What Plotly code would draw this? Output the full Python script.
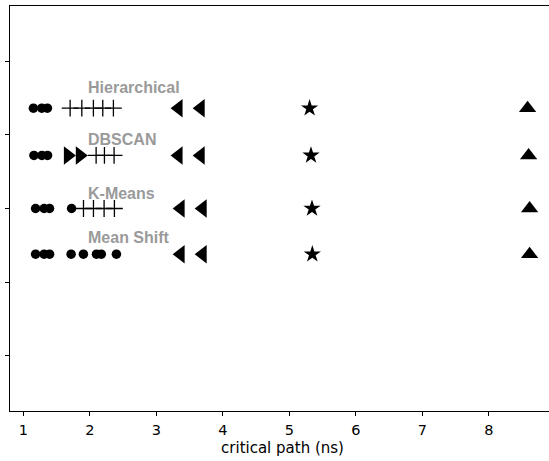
import plotly.graph_objects as go

# ---- data ----
algorithms = ["Hierarchical", "DBSCAN", "K-Means", "Mean Shift"]
row_y = [3.36, 2.72, 2.0, 1.38]
label_y = [3.64, 2.94, 2.20, 1.61]
label_x = 1.94

circles = [
    [1.152, 1.278, 1.362],
    [1.16, 1.28, 1.365],
    [1.185, 1.313, 1.395, 1.726],
    [1.185, 1.313, 1.395, 1.719, 1.904, 2.10, 2.173, 2.40],
]
crosses = [
    [1.704, 1.880, 2.054, 2.195, 2.355],
    [2.095, 2.22, 2.365],
    [1.905, 2.055, 2.215, 2.37],
    [],
]
right_tri = [[], [1.67, 1.85], [], []]
left_tri = [
    [3.335, 3.667],
    [3.335, 3.667],
    [3.366, 3.697],
    [3.366, 3.697],
]
stars = [5.305, 5.326, 5.341, 5.346]
up_tri = [8.583, 8.598, 8.613, 8.613]

x_ticks = [1, 2, 3, 4, 5, 6, 7, 8]
y_ticks = [0, 1, 2, 3, 4]

fig = go.Figure()

def add(xs, y, symbol, size, line=False):
    if not xs:
        return
    marker = dict(symbol=symbol, size=size, color="black")
    if line:
        marker["line"] = dict(color="black", width=1.3)
    else:
        marker["line"] = dict(width=0)
    fig.add_trace(go.Scatter(x=xs, y=[y] * len(xs), mode="markers",
                             marker=marker, showlegend=False, hoverinfo="x"))

for i, name in enumerate(algorithms):
    y = row_y[i]
    add(crosses[i], y, "cross-thin", 12, line=True)
    add(right_tri[i], y, "triangle-right", 16)
    add(circles[i], y, "circle", 9.5)
    add(left_tri[i], y, "triangle-left", 16)
    add([stars[i]], y, "star", 13)
    add([up_tri[i]], y, "triangle-up", 15)
    fig.add_annotation(x=label_x, y=label_y[i], text="<b>%s</b>" % name,
                       showarrow=False, xanchor="left", yanchor="middle",
                       font=dict(family="Liberation Sans", size=16, color="#9a9a9a"))

fig.update_layout(
    width=556, height=461,
    margin=dict(l=10, r=1, t=6, b=50),
    paper_bgcolor="white", plot_bgcolor="white",
    font=dict(family="DejaVu Sans", size=15, color="black"),
)
fig.update_xaxes(
    range=[0.8, 8.995], tickvals=x_ticks, ticks="outside", ticklen=4,
    tickcolor="black", tickfont=dict(size=14.5), ticklabelstandoff=2,
    showline=True, linecolor="black",
    linewidth=1, mirror=True, showgrid=False, zeroline=False,
    title=dict(text="critical path (ns)", font=dict(size=15), standoff=5),
)
fig.update_yaxes(
    range=[-0.746, 4.746], tickvals=y_ticks, showticklabels=False, ticks="outside",
    ticklen=4, tickcolor="black", showline=True, linecolor="black", linewidth=1,
    mirror=True, showgrid=False, zeroline=False,
)

fig.write_html("out.html", config={"displayModeBar": False},
               post_script="document.body.style.margin='0';document.body.style.overflow='hidden';")
